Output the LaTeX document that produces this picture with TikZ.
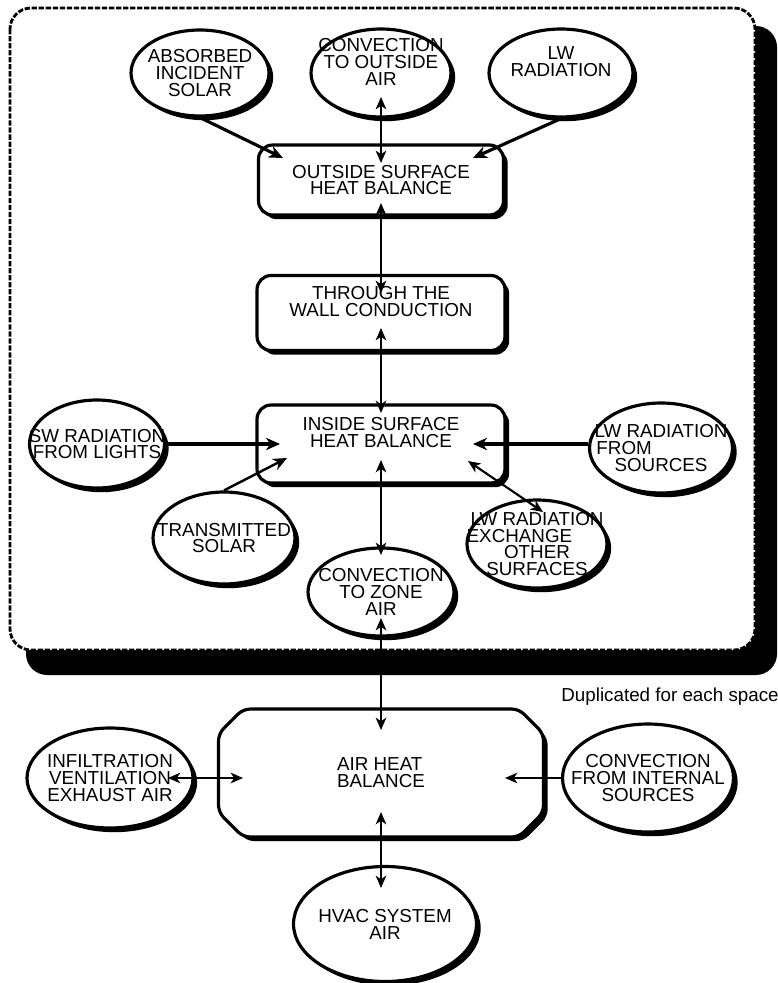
\documentclass[tikz,border=0pt]{standalone}
\usepackage{fontspec}
\setmainfont{Liberation Sans}
\usetikzlibrary{shapes.geometric,shapes.misc,shadows,arrows.meta,calc}

\begin{document}
\begin{tikzpicture}[
            x=0.02cm, y=-0.02cm,
            font=\fontsize{10.7}{9.6}\selectfont,
            dropped/.style={drop shadow={shadow xshift=2.4pt,shadow yshift=-2.4pt,fill=black,opacity=1}},
            blob/.style={ellipse,draw,line width=1.8pt,fill=white,inner xsep=-4em,inner ysep=-3em,align=center,dropped},
            box/.style={rectangle,rounded corners=8pt,draw,line width=1.8pt,fill=white,inner sep=0pt,align=center,dropped},
            hub/.style={chamfered rectangle,chamfered rectangle xsep=7pt,chamfered rectangle ysep=7pt,rounded corners=4pt,draw,line width=1.8pt,fill=white,inner sep=0pt,align=left,dropped},
            dup/.style={anchor=west,inner sep=0pt},
            feed/.style={-{Stealth[length=8pt,width=7pt,inset=2.5pt]},line width=1.8pt},
            link/.style={{Stealth[length=7pt,width=6pt,inset=2pt]}-{Stealth[length=7pt,width=6pt,inset=2pt]},line width=1.2pt}
        ]
        \useasboundingbox (0,0) rectangle (777,983);

        % space frame
        \fill[rounded corners=12pt] (26,26) rectangle (777,675);
        \draw[dash pattern=on 3pt off 1pt,line width=1.6pt,fill=white,rounded corners=12pt] (10,8) rectangle (755,650);

        % outside
        \node[blob,minimum width=2.76cm,minimum height=1.72cm] (abs) at (200,73) {ABSORBED\\INCIDENT\\SOLAR};
        \node[blob,minimum width=2.8cm,minimum height=1.76cm] (cvo) at (381,73) {CONVECTION\\TO OUTSIDE\\AIR\\[3pt]};
        \node[blob,minimum width=2.88cm,minimum height=1.76cm] (lwr) at (561,73) {LW\\RADIATION\\[3pt]};
        \node[box,minimum width=4.9cm,minimum height=1.4cm] (osb) at (381,180) {OUTSIDE SURFACE\\HEAT BALANCE};
        \node[box,minimum width=4.96cm,minimum height=1.5cm] (twc) at (381,313) {THROUGH THE\\WALL CONDUCTION\\[4pt]};

        % inside
        \node[box,minimum width=4.96cm,minimum height=1.56cm] (isb) at (381,444) {INSIDE SURFACE\\HEAT BALANCE\\[4pt]};
        \node[blob,minimum width=2.7cm,minimum height=1.76cm] (swl) at (97,444) {SW RADIATION\\FROM LIGHTS};
        \node[blob,minimum width=2.84cm,minimum height=1.84cm] (trs) at (224,538) {TRANSMITTED\\SOLAR};
        \node[blob,minimum width=2.92cm,minimum height=1.76cm] (cza) at (381,592) {CONVECTION\\TO ZONE\\AIR};
        \node[blob,minimum width=2.8cm,minimum height=1.76cm] (lwx) at (537,544) {LW RADIATION\\EXCHANGE\rule{20pt}{0pt}\\OTHER\\SURFACES};
        \node[blob,minimum width=2.86cm,minimum height=1.8cm] (lws) at (661,448) {LW RADIATION\\FROM\rule{42pt}{0pt}\\SOURCES};

        \node[dup] (dup) at (561,697) {Duplicated for each space};

        % air
        \node[hub,minimum width=6.5cm,minimum height=2.56cm] (ahb) at (381,773) {AIR HEAT\\BALANCE};
        \node[blob,minimum width=3.32cm,minimum height=2cm] (inf) at (110,778) {INFILTRATION\\VENTILATION\\EXHAUST AIR};
        \node[blob,minimum width=3.42cm,minimum height=2.16cm] (cis) at (648,778) {CONVECTION\\FROM INTERNAL\\SOURCES};
        \node[blob,minimum width=3.66cm,minimum height=2.3cm] (hvac) at (385,924) {HVAC SYSTEM\\AIR};

        \draw[feed] (abs.south) -- ($(osb.center)+(-98,-22)$);
        \draw[feed] (lwr.south) -- ($(osb.center)+(92,-22)$);
        \draw[link] ($(cvo.center)+(0,24)$) -- ($(osb.center)+(0,-17)$);
        \draw[link] ($(osb.center)+(0,23)$) -- ($(twc.center)+(0,-20)$);
        \draw[link] ($(twc.center)+(0,15)$) -- ($(isb.center)+(0,-31)$);

        \draw[feed] (swl.east) -- ($(isb.center)+(-101,0)$);
        \draw[feed,line width=1.4pt] (trs.north) -- ($(isb.center)+(-94,14)$);
        \draw[feed] (lws.west |- isb.center) -- ($(isb.center)+(92,0)$);
        \draw[link] ($(isb.center)+(87,17)$) -- ($(lwx.center)+(6,-32)$);
        \draw[link] ($(isb.center)+(0,16)$) -- ($(cza.center)+(0,-37)$);
        \draw[link] ($(cza.center)+(0,26)$) -- ($(ahb.center)+(0,-43)$);

        \draw[link] ($(inf.center)+(58,0)$) -- ($(ahb.center)+(-138,5)$);
        \draw[link,-{Stealth[length=7pt,width=6pt,inset=2pt]}] (cis.west) -- ($(ahb.center)+(124,5)$);
        \draw[link] ($(ahb.center)+(0,39)$) -- ($(ahb.center |- hvac.center)+(0,-36)$);
    \end{tikzpicture}
\end{document}
